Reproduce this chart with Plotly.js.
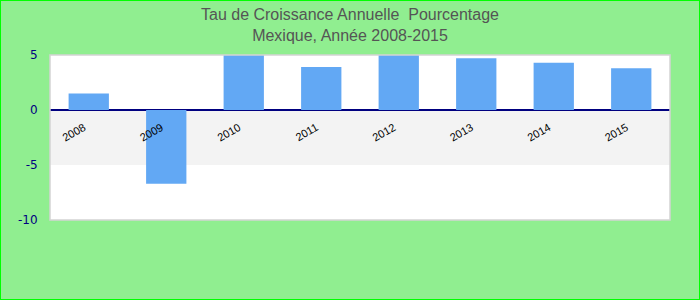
<!DOCTYPE html>
<html>
<head>
<meta charset="utf-8">
<script src="https://cdn.plot.ly/plotly-3.0.1.min.js"></script>
<style>
html,body{margin:0;padding:0;background:#90EE90;}
#chart{width:698px;height:298px;border:1px solid #00ff00;}
</style>
</head>
<body>
<div id="chart"></div>
<script>
const years = ['2008','2009','2010','2011','2012','2013','2014','2015'];
const growth = [1.5, -6.7, 5.1, 3.9, 5.0, 4.7, 4.3, 3.8];
const yTicks = [-10, -5, 0, 5];
const band = [-5, 0];

const trace = {
  type: 'bar',
  x: years,
  y: growth,
  marker: {color: '#62a8f4'},
  hoverinfo: 'x+y'
};

const layout = {
  width: 698,
  height: 298,
  paper_bgcolor: '#90EE90',
  plot_bgcolor: '#ffffff',
  margin: {l: 49, r: 29, t: 54, b: 79},
  showlegend: false,
  bargap: 0.48,
  title: {
    text: 'Tau de Croissance Annuelle  Pourcentage<br>Mexique, Année 2008-2015',
    font: {family: 'Liberation Sans, Arial, sans-serif', size: 16, color: '#555555'},
    x: 0.5, xanchor: 'center', xref: 'container',
    y: 0.935, yanchor: 'top', yref: 'container'
  },
  xaxis: {
    type: 'category',
    anchor: 'free',
    position: (220 - 1 - 109.3) / (219 - 54),
    showline: false,
    showgrid: false,
    ticks: '',
    tickangle: -30,
    tickfont: {family: 'Liberation Sans, Arial, sans-serif', size: 11, color: '#000000'},
    ticklabelstandoff: 8,
    ticklabelshift: -5
  },
  yaxis: {
    range: [-10, 5],
    tickvals: yTicks,
    ticktext: yTicks.map(String),
    showgrid: false,
    zeroline: true,
    zerolinecolor: '#000080',
    zerolinewidth: 1.5,
    tickfont: {family: 'DejaVu Sans, sans-serif', size: 12, color: '#000080'},
    ticks: 'outside',
    ticklen: 9,
    tickcolor: 'rgba(0,0,0,0)'
  },
  shapes: [
    {type: 'rect', xref: 'paper', yref: 'y', x0: 0, x1: 1, y0: band[0], y1: band[1],
     fillcolor: '#f3f3f3', line: {width: 0}, layer: 'below'},
    {type: 'rect', xref: 'paper', yref: 'paper', x0: 0, x1: 1, y0: 0, y1: 1,
     fillcolor: 'rgba(0,0,0,0)', line: {width: 1.5, color: '#d4d4d4'}, layer: 'above'}
  ]
};

Plotly.newPlot('chart', [trace], layout, {displayModeBar: false, staticPlot: true});
</script>
</body>
</html>
